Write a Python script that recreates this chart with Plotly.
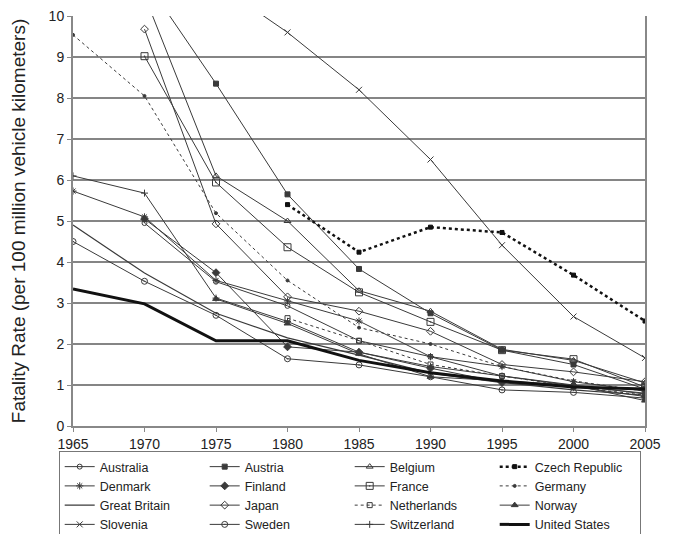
import plotly.graph_objects as go

years = [1965, 1970, 1975, 1980, 1985, 1990, 1995, 2000, 2005]

australia = [None, 4.95, 3.52, 2.93, 2.08, 1.69, 1.22, 1.00, 0.78]
austria = [None, 10.9, 8.35, 5.65, 3.83, 2.75, 1.85, 1.50, 0.90]
belgium = [None, 10.5, 6.10, 5.00, 3.30, 2.80, 1.87, 1.60, 1.05]
czech = [None, None, None, 5.40, 4.24, 4.85, 4.72, 3.68, 2.56]
denmark = [5.73, 5.10, 3.55, 3.05, 2.56, 1.69, 1.45, 1.08, 0.85]
finland = [None, 5.05, 3.74, 1.93, 1.80, 1.41, 1.06, 0.96, 0.72]
france = [None, 9.02, 5.94, 4.36, 3.26, 2.54, 1.85, 1.63, 0.95]
germany = [9.54, 8.05, 5.19, 3.55, 2.40, 2.00, 1.45, 1.10, 0.85]
great_britain = [4.90, 3.73, 2.75, 2.15, 1.73, 1.29, 1.06, 0.88, 0.75]
japan = [None, 9.68, 4.93, 3.15, 2.80, 2.31, 1.50, 1.32, 1.08]
netherlands = [None, None, None, 2.63, 2.08, 1.50, 1.22, 0.96, 0.75]
norway = [None, None, 3.10, 2.50, 1.76, 1.20, 1.10, 1.00, 0.62]
slovenia = [None, None, 10.8, 9.60, 8.20, 6.50, 4.41, 2.67, 1.66]
sweden = [4.50, 3.53, 2.70, 1.64, 1.49, 1.20, 0.88, 0.82, 0.68]
switzerland = [6.10, 5.68, 3.12, 2.55, 1.80, 1.45, 1.22, 0.98, 0.80]
united_states = [3.34, 2.98, 2.08, 2.08, 1.60, 1.30, 1.10, 0.95, 0.90]

names = ["Australia", "Austria", "Belgium", "Czech Republic",
         "Denmark", "Finland", "France", "Germany",
         "Great Britain", "Japan", "Netherlands", "Norway",
         "Slovenia", "Sweden", "Switzerland", "United States"]
values = [australia, austria, belgium, czech,
          denmark, finland, france, germany,
          great_britain, japan, netherlands, norway,
          slovenia, sweden, switzerland, united_states]

C = "#3a3a3a"
styles = {
    "Australia": dict(symbol="circle-open", size=5, dash="solid", width=1),
    "Austria": dict(symbol="square", size=5, dash="solid", width=1),
    "Belgium": dict(symbol="triangle-up-open", size=6, dash="solid", width=1),
    "Czech Republic": dict(symbol="square", size=4, dash="dot", width=2.5),
    "Denmark": dict(symbol="asterisk-open", size=6, dash="solid", width=1),
    "Finland": dict(symbol="diamond", size=6, dash="solid", width=1),
    "France": dict(symbol="square-open-dot", size=7, dash="solid", width=1),
    "Germany": dict(symbol="circle", size=3, dash="dot", width=1),
    "Great Britain": dict(symbol=None, size=0, dash="solid", width=1.2),
    "Japan": dict(symbol="diamond-open", size=6, dash="solid", width=1),
    "Netherlands": dict(symbol="square-open", size=5, dash="dot", width=1),
    "Norway": dict(symbol="triangle-up", size=6, dash="solid", width=1),
    "Slovenia": dict(symbol="x-thin-open", size=6, dash="solid", width=1),
    "Sweden": dict(symbol="circle-open-dot", size=6, dash="solid", width=1),
    "Switzerland": dict(symbol="cross-thin-open", size=5, dash="solid", width=1),
    "United States": dict(symbol=None, size=0, dash="solid", width=3),
}

fig = go.Figure()
for name, vals in zip(names, values):
    s = styles[name]
    color = "#111111" if name in ("United States", "Czech Republic") else C
    if s["symbol"] is None:
        fig.add_trace(go.Scatter(x=years, y=vals, name=name, mode="lines",
                                 line=dict(color=color, width=s["width"], dash=s["dash"])))
    else:
        fig.add_trace(go.Scatter(x=years, y=vals, name=name, mode="lines+markers",
                                 line=dict(color=color, width=s["width"], dash=s["dash"]),
                                 marker=dict(symbol=s["symbol"], size=s["size"], color=color,
                                             line=dict(color=color, width=1))))

fig.update_layout(
    width=673, height=534,
    margin=dict(l=73, r=28, t=16, b=108, autoexpand=False),
    paper_bgcolor="white", plot_bgcolor="white",
    font=dict(family="Liberation Sans, Arial, sans-serif", size=14, color="#222"),
    showlegend=True,
    legend=dict(orientation="h", x=-0.025, y=-0.061, xanchor="left", yanchor="top",
                bordercolor="#777", borderwidth=1, entrywidth=100,
                font=dict(size=12.5, color="#222"), tracegroupgap=0,
                itemsizing="trace"),
)
fig.update_xaxes(range=[1965, 2005], tickvals=years, ticktext=[str(y) for y in years],
                 showgrid=False, showline=True, linecolor="#888", linewidth=2,
                 ticks="outside", ticklen=4, tickcolor="#888", zeroline=False,
                 tickfont=dict(size=14))
fig.update_yaxes(range=[0, 10], dtick=1, showgrid=True, gridcolor="#858585", gridwidth=2,
                 showline=True, mirror=True, linecolor="#888", linewidth=2,
                 ticks="outside", ticklen=4, tickcolor="#888", zeroline=False,
                 tickfont=dict(size=14),
                 title=dict(text="Fatality Rate (per 100 million vehicle kilometers)",
                            font=dict(size=19), standoff=18))

fig.write_html("out.html", config={"displayModeBar": False},
               post_script="document.body.style.margin='0px';document.body.style.overflow='hidden';")
